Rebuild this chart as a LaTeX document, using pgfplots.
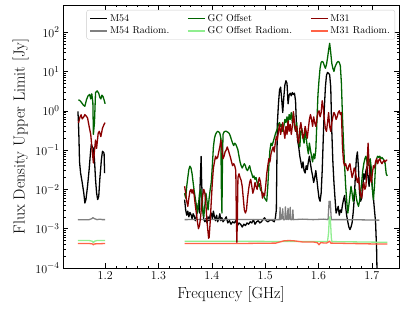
\documentclass[border=0pt]{standalone}
\usepackage{pgfplots}
\pgfplotsset{compat=1.18}
\definecolor{mgray}{HTML}{808080}
\definecolor{dgreen}{HTML}{006400}
\definecolor{lgreen}{HTML}{90EE90}
\definecolor{dred}{HTML}{8B0000}
\definecolor{tomato}{HTML}{FF6347}
\begin{document}
\begin{tikzpicture}
\begin{axis}[
  width=336pt, height=263pt, scale only axis,
  xmin=1.121, xmax=1.751, ymin=1e-4, ymax=490, ymode=log,
  xtick={1.2,1.3,1.4,1.5,1.6,1.7}, minor x tick num=4,
  ytick={1e-4,1e-3,1e-2,1e-1,1,10,100},
  xticklabel style={/pgf/number format/.cd, fixed, precision=1},
  tick label style={font=\fontsize{13}{15}\selectfont},
  label style={font=\fontsize{16}{19}\selectfont},
  xlabel={Frequency [GHz]}, ylabel={Flux Density Upper Limit [Jy]},
  major tick length=5pt, minor tick length=2.5pt,
  tick style={black, line width=0.5pt},
  axis line style={line width=0.8pt},
  unbounded coords=jump,
  every axis plot/.append style={line width=1.3pt, line join=round},
  legend columns=3, legend cell align=left,
  legend style={at={(1,1)}, anchor=north east, xshift=-4pt, yshift=-5pt,
    font=\fontsize{10}{12}\selectfont, draw=black!20, rounded corners=2pt,
    fill=white, fill opacity=0.8, text opacity=1,
    /tikz/every even column/.append style={column sep=16pt}},
]
\addlegendimage{black, line width=1.3pt}\addlegendentry{M54}
\addlegendimage{dgreen, line width=1.3pt}\addlegendentry{GC Offset}
\addlegendimage{dred, line width=1.3pt}\addlegendentry{M31}
\addlegendimage{mgray, line width=1.3pt}\addlegendentry{M54 Radiom.}
\addlegendimage{lgreen, line width=1.3pt}\addlegendentry{GC Offset Radiom.}
\addlegendimage{tomato, line width=1.3pt}\addlegendentry{M31 Radiom.}

% M54
\addplot[black, forget plot] coordinates {
(1.149,0.96)(1.150,0.50)(1.151,0.18)(1.152,0.05)(1.154,0.026)(1.157,0.015)(1.160,0.008)(1.162,0.0045)(1.164,0.0055)(1.167,0.012)(1.170,0.032)(1.172,0.07)(1.174,0.14)(1.176,0.12)(1.178,0.11)(1.180,0.057)(1.182,0.018)(1.184,0.0081)(1.186,0.0055)(1.188,0.0066)(1.190,0.018)(1.193,0.057)(1.195,0.093)(1.198,0.084)(1.199,0.026)
(1.27,nan)
(1.349,0.0055)(1.351,0.0030)(1.353,0.0022)(1.355,0.0028)(1.357,0.0020)(1.359,0.0026)(1.361,0.0023)(1.363,0.0018)(1.365,0.0024)(1.367,0.0021)(1.369,0.0016)(1.371,0.0020)(1.373,0.0030)(1.375,0.0045)(1.377,0.0025)(1.378,0.012)(1.380,0.069)(1.381,0.015)(1.383,0.0030)(1.385,0.0017)(1.387,0.0015)(1.389,0.0018)(1.391,0.0014)(1.393,0.0020)(1.395,0.0016)(1.397,0.0022)(1.399,0.0025)(1.401,0.0018)(1.403,0.0028)(1.405,0.0020)(1.407,0.0016)(1.409,0.0022)(1.411,0.0015)(1.413,0.0018)(1.415,0.0024)(1.417,0.0016)(1.419,0.0019)(1.421,0.0015)(1.424,0.0017)(1.427,0.0020)(1.430,0.0014)(1.433,0.0016)(1.436,0.0013)(1.439,0.0015)(1.442,0.0014)(1.445,0.0016)(1.448,0.0012)(1.451,0.0014)(1.454,0.0013)(1.457,0.0011)(1.460,0.0013)(1.463,0.0012)(1.466,0.0014)(1.469,0.0013)(1.472,0.0015)(1.475,0.0014)(1.478,0.0017)(1.481,0.0013)(1.484,0.0015)(1.487,0.0016)(1.490,0.0014)(1.493,0.0015)(1.496,0.0017)(1.499,0.0019)(1.502,0.0016)(1.505,0.0015)(1.508,0.0016)(1.511,0.0017)(1.514,0.0016)(1.517,0.0015)(1.519,0.0018)(1.521,0.0030)(1.522,0.05)(1.523,0.5)(1.525,1.5)(1.527,3.4)(1.529,4.0)(1.531,2.0)(1.533,0.9)(1.535,2.2)(1.537,4.5)(1.539,5.8)(1.541,5.0)(1.543,1.5)(1.545,2.5)(1.547,2.8)(1.549,2.4)(1.551,2.9)(1.553,2.6)(1.555,2.8)(1.557,1.8)(1.559,0.35)(1.561,0.17)(1.563,0.12)(1.565,0.07)(1.567,0.05)(1.569,0.035)(1.571,0.05)(1.573,0.03)(1.575,0.026)(1.577,0.04)(1.579,0.032)(1.581,0.05)(1.583,0.07)(1.585,0.045)(1.587,0.03)(1.589,0.022)(1.591,0.015)(1.593,0.02)(1.595,0.03)(1.597,0.018)(1.599,0.010)(1.601,0.006)(1.603,0.005)(1.605,0.008)(1.607,0.03)(1.609,0.2)(1.611,1.2)(1.613,4.0)(1.615,8.0)(1.617,9.4)(1.619,9.0)(1.621,8.2)(1.623,4.0)(1.625,0.3)(1.627,0.05)(1.629,0.015)(1.631,0.006)(1.633,0.0025)(1.635,0.0030)(1.637,0.0037)(1.639,0.0022)(1.641,0.0030)(1.643,0.0026)(1.645,0.0040)(1.647,0.0055)(1.649,0.007)(1.651,0.0035)(1.653,0.0021)(1.655,0.0015)(1.657,0.0011)(1.659,0.00095)(1.661,0.0011)(1.663,0.0014)(1.665,0.0025)(1.667,0.0055)(1.669,0.02)(1.671,0.06)(1.673,0.09)(1.675,0.035)(1.677,0.008)(1.679,0.005)(1.681,0.006)(1.683,0.012)(1.685,0.025)(1.687,0.018)(1.689,0.03)(1.691,0.038)(1.693,0.02)(1.695,0.012)(1.697,0.045)(1.699,0.02)(1.701,0.012)(1.703,0.006)(1.705,0.003)(1.707,0.0015)(1.709,0.0003)(1.711,0.00001)
};
% M54 Radiom.
\addplot[mgray, forget plot] coordinates {
(1.149,0.0017)(1.160,0.00168)(1.170,0.0017)(1.175,0.0018)(1.177,0.0019)(1.180,0.0018)(1.185,0.0017)(1.190,0.00175)(1.195,0.0017)(1.200,0.0017)
(1.27,nan)
(1.349,0.0017)(1.380,0.00172)(1.420,0.0017)(1.460,0.00172)(1.500,0.0017)(1.525,0.0017)(1.527,0.0017)(1.528,0.0035)(1.529,0.0017)(1.531,0.0018)(1.533,0.0032)(1.534,0.0017)(1.537,0.0017)(1.538,0.0036)(1.539,0.0018)(1.541,0.0017)(1.543,0.0033)(1.544,0.0017)(1.546,0.0018)(1.547,0.0035)(1.548,0.0017)(1.551,0.0017)(1.552,0.003)(1.553,0.0017)(1.570,0.00175)(1.590,0.0017)(1.610,0.00175)(1.618,0.0017)(1.619,0.003)(1.620,0.005)(1.621,0.0035)(1.622,0.005)(1.623,0.003)(1.624,0.0017)(1.650,0.0017)(1.680,0.00168)(1.714,0.00165)
};
% GC Offset
\addplot[dgreen, forget plot] coordinates {
(1.150,1.9)(1.153,1.8)(1.156,1.6)(1.159,1.4)(1.162,1.3)(1.165,1.9)(1.168,2.4)(1.171,2.6)(1.173,2.0)(1.175,2.7)(1.177,1.6)(1.178,0.25)(1.180,0.5)(1.182,2.9)(1.185,3.2)(1.188,2.8)(1.190,2.2)(1.192,2.0)(1.194,2.5)(1.196,2.3)(1.198,1.9)(1.200,1.5)
(1.27,nan)
(1.349,0.008)(1.351,0.006)(1.353,0.012)(1.355,0.020)(1.357,0.032)(1.359,0.039)(1.361,0.035)(1.363,0.025)(1.365,0.015)(1.367,0.009)(1.369,0.006)(1.371,0.004)(1.373,0.0025)(1.375,0.004)(1.377,0.008)(1.379,0.010)(1.381,0.006)(1.383,0.003)(1.385,0.002)(1.387,0.004)(1.389,0.008)(1.391,0.005)(1.393,0.003)(1.395,0.006)(1.397,0.010)(1.399,0.015)(1.401,0.04)(1.403,0.12)(1.405,0.20)(1.407,0.25)(1.409,0.28)(1.411,0.30)(1.413,0.29)(1.415,0.27)(1.417,0.2)(1.418,0.01)(1.419,0.0025)(1.420,0.05)(1.421,0.25)(1.423,0.29)(1.425,0.30)(1.427,0.30)(1.429,0.29)(1.431,0.28)(1.433,0.26)(1.435,0.22)(1.437,0.18)(1.439,0.15)(1.441,0.13)(1.443,0.15)(1.445,0.14)(1.447,0.12)(1.449,0.10)(1.451,0.07)(1.453,0.05)(1.455,0.04)(1.457,0.035)(1.459,0.04)(1.461,0.045)(1.463,0.04)(1.465,0.032)(1.467,0.03)(1.469,0.035)(1.471,0.04)(1.473,0.03)(1.475,0.025)(1.477,0.02)(1.479,0.022)(1.481,0.018)(1.483,0.02)(1.485,0.015)(1.487,0.012)(1.489,0.014)(1.491,0.01)(1.493,0.009)(1.495,0.008)(1.497,0.007)(1.499,0.006)(1.501,0.0055)(1.503,0.005)(1.505,0.012)(1.507,0.04)(1.509,0.10)(1.511,0.15)(1.513,0.13)(1.515,0.16)(1.517,0.2)(1.519,0.25)(1.521,0.3)(1.523,0.35)(1.525,0.45)(1.527,0.5)(1.529,0.4)(1.531,0.45)(1.533,0.3)(1.535,0.4)(1.537,0.6)(1.539,0.5)(1.541,0.7)(1.543,0.45)(1.545,0.8)(1.547,0.6)(1.549,0.9)(1.551,0.5)(1.553,0.85)(1.555,0.4)(1.557,0.3)(1.559,0.5)(1.561,0.25)(1.563,0.15)(1.565,0.12)(1.567,0.3)(1.569,0.35)(1.571,0.2)(1.573,0.15)(1.575,0.3)(1.577,0.2)(1.579,0.12)(1.581,0.08)(1.583,0.15)(1.585,0.1)(1.587,0.07)(1.589,0.05)(1.591,0.08)(1.593,0.06)(1.595,0.1)(1.597,0.5)(1.599,2.5)(1.601,6)(1.603,12)(1.605,17)(1.607,18)(1.609,17)(1.611,14)(1.613,12)(1.615,15)(1.617,22)(1.619,35)(1.621,52)(1.623,30)(1.625,16)(1.627,12)(1.629,10)(1.631,13)(1.633,15)(1.635,17)(1.637,18)(1.639,17)(1.641,14)(1.643,5)(1.645,0.7)(1.647,0.15)(1.649,0.04)(1.651,0.012)(1.653,0.005)(1.655,0.0025)(1.657,0.004)(1.659,0.007)(1.661,0.012)(1.663,0.008)(1.665,0.005)(1.667,0.008)(1.669,0.01)(1.671,0.006)(1.673,0.0045)(1.675,0.0037)(1.677,0.005)(1.679,0.008)(1.681,0.015)(1.683,0.03)(1.685,0.045)(1.687,0.06)(1.689,0.07)(1.691,0.05)(1.693,0.04)(1.695,0.055)(1.697,0.06)(1.699,0.035)(1.701,0.01)(1.703,0.0055)(1.705,0.012)(1.707,0.04)(1.709,0.06)(1.711,0.07)(1.713,0.065)(1.715,0.07)(1.717,0.06)(1.719,0.065)(1.721,0.06)(1.723,0.055)(1.725,0.045)(1.727,0.025)(1.729,0.022)
};
% GC Offset Radiom.
\addplot[lgreen, forget plot] coordinates {
(1.149,0.0005)(1.170,0.0005)(1.176,0.00048)(1.178,0.00044)(1.180,0.00048)(1.185,0.0005)(1.200,0.0005)
(1.27,nan)
(1.349,0.00048)(1.450,0.00048)(1.550,0.00047)(1.617,0.00047)(1.619,0.0008)(1.620,0.0016)(1.621,0.002)(1.622,0.0019)(1.623,0.0012)(1.624,0.0006)(1.625,0.00047)(1.680,0.00046)(1.729,0.00045)
};
% M31
\addplot[dred, forget plot] coordinates {
(1.150,0.49)(1.153,0.70)(1.155,0.79)(1.157,0.62)(1.160,0.70)(1.162,0.80)(1.165,0.72)(1.167,0.66)(1.170,0.40)(1.173,0.25)(1.175,0.124)(1.178,0.047)(1.179,0.069)(1.182,0.18)(1.184,0.11)(1.187,0.27)(1.189,0.30)(1.192,0.22)(1.195,0.36)(1.198,0.45)(1.200,0.50)
(1.27,nan)
(1.349,0.012)(1.351,0.008)(1.353,0.005)(1.355,0.0037)(1.357,0.006)(1.359,0.009)(1.361,0.010)(1.363,0.008)(1.365,0.010)(1.367,0.007)(1.369,0.004)(1.371,0.0025)(1.373,0.0015)(1.375,0.001)(1.377,0.0012)(1.379,0.002)(1.381,0.004)(1.383,0.007)(1.385,0.010)(1.387,0.008)(1.389,0.004)(1.391,0.0015)(1.393,0.0008)(1.394,0.00057)(1.395,0.0006)(1.397,0.0015)(1.399,0.005)(1.401,0.015)(1.403,0.035)(1.405,0.05)(1.407,0.07)(1.409,0.06)(1.411,0.065)(1.413,0.09)(1.415,0.12)(1.417,0.18)(1.419,0.10)(1.421,0.06)(1.423,0.07)(1.425,0.09)(1.427,0.1)(1.429,0.12)(1.431,0.1)(1.433,0.08)(1.435,0.065)(1.437,0.05)(1.439,0.04)(1.441,0.045)(1.443,0.04)(1.445,0.03)(1.446,0.002)(1.447,0.00045)(1.448,0.002)(1.449,0.02)(1.451,0.025)(1.453,0.02)(1.455,0.017)(1.457,0.012)(1.459,0.006)(1.461,0.003)(1.463,0.0025)(1.465,0.003)(1.467,0.006)(1.469,0.01)(1.471,0.015)(1.473,0.018)(1.475,0.012)(1.477,0.008)(1.479,0.01)(1.481,0.015)(1.483,0.012)(1.485,0.01)(1.487,0.015)(1.489,0.02)(1.491,0.016)(1.493,0.01)(1.495,0.006)(1.497,0.008)(1.499,0.007)(1.501,0.012)(1.503,0.025)(1.505,0.04)(1.507,0.06)(1.509,0.05)(1.511,0.08)(1.513,0.1)(1.515,0.12)(1.517,0.09)(1.519,0.15)(1.521,0.22)(1.523,0.18)(1.525,0.3)(1.527,0.45)(1.529,0.25)(1.531,0.35)(1.533,0.5)(1.535,0.3)(1.537,0.2)(1.539,0.4)(1.541,0.25)(1.543,0.55)(1.545,0.3)(1.547,0.45)(1.549,0.25)(1.551,0.4)(1.553,0.95)(1.555,0.5)(1.557,0.3)(1.559,0.4)(1.561,0.2)(1.563,0.15)(1.565,0.35)(1.567,0.5)(1.569,0.3)(1.571,0.2)(1.573,0.25)(1.575,0.4)(1.577,0.3)(1.579,0.2)(1.581,0.35)(1.583,0.6)(1.585,0.8)(1.587,0.6)(1.589,0.4)(1.591,0.7)(1.593,0.5)(1.595,0.4)(1.597,0.6)(1.599,0.9)(1.601,1.0)(1.603,0.7)(1.605,0.9)(1.607,1.8)(1.609,1.2)(1.611,0.6)(1.613,0.35)(1.615,0.3)(1.617,0.5)(1.619,0.9)(1.621,0.4)(1.623,0.3)(1.625,0.5)(1.627,0.7)(1.629,0.9)(1.631,0.8)(1.633,0.6)(1.635,0.7)(1.637,0.9)(1.639,1.0)(1.641,0.8)(1.643,0.9)(1.645,0.12)(1.647,0.05)(1.649,0.04)(1.651,0.045)(1.653,0.035)(1.655,0.03)(1.657,0.04)(1.659,0.045)(1.661,0.03)(1.663,0.02)(1.665,0.025)(1.667,0.035)(1.669,0.03)(1.671,0.02)(1.673,0.015)(1.675,0.02)(1.677,0.012)(1.679,0.007)(1.681,0.006)(1.683,0.01)(1.685,0.015)(1.687,0.01)(1.689,0.012)(1.691,0.04)(1.693,0.15)(1.695,0.04)(1.697,0.02)(1.699,0.015)(1.701,0.025)(1.703,0.04)(1.705,0.035)(1.707,0.05)(1.709,0.06)(1.711,0.045)(1.713,0.055)(1.715,0.06)(1.717,0.05)(1.719,0.045)(1.721,0.05)(1.723,0.055)(1.725,0.05)(1.727,0.055)(1.729,0.056)
};
% M31 Radiom.
\addplot[tomato, forget plot] coordinates {
(1.149,0.00042)(1.170,0.00042)(1.176,0.00041)(1.178,0.00039)(1.180,0.00041)(1.200,0.00042)
(1.27,nan)
(1.349,0.00042)(1.450,0.00042)(1.520,0.00043)(1.535,0.00049)(1.545,0.0005)(1.555,0.00049)(1.570,0.00046)(1.590,0.00046)(1.598,0.00044)(1.601,0.00039)(1.604,0.00044)(1.615,0.00043)(1.621,0.00048)(1.623,0.00043)(1.660,0.00042)(1.700,0.00041)(1.729,0.00041)
};
\end{axis}
\path ([shift={(-63pt,-50pt)}]current axis.south west) rectangle ([shift={(8pt,5pt)}]current axis.north east);
\end{tikzpicture}
\end{document}
